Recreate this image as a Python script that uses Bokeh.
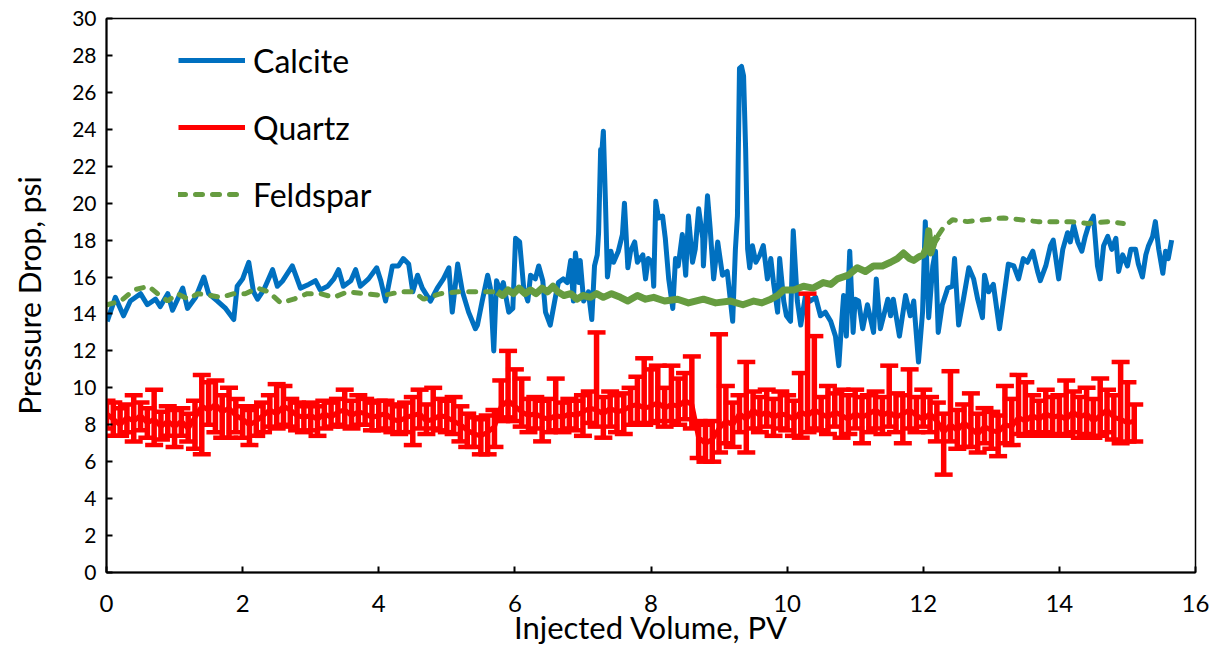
import numpy as np
from bokeh.plotting import figure
from bokeh.models import Range1d, Legend
from bokeh.embed import file_html
from bokeh.resources import INLINE

# ---------------- data ----------------
calcite_pv = [0.01, 0.13, 0.25, 0.35, 0.50, 0.60, 0.72, 0.79, 0.90, 0.97, 1.12, 1.19, 1.31, 1.43, 1.50,
              1.63, 1.75, 1.87, 1.92, 2.00, 2.09, 2.16, 2.22, 2.31, 2.44, 2.51, 2.59, 2.73, 2.85, 2.97,
              3.07, 3.14, 3.25, 3.34, 3.41, 3.48, 3.59, 3.66, 3.73, 3.85, 3.97, 4.03, 4.10, 4.20, 4.29,
              4.36, 4.44, 4.50, 4.57, 4.64, 4.76, 4.86, 4.95, 5.03, 5.08, 5.16, 5.23, 5.32, 5.42, 5.45,
              5.52, 5.60, 5.64, 5.69, 5.73, 5.79, 5.83, 5.91, 5.97, 6.01, 6.07, 6.13, 6.19, 6.23, 6.30,
              6.35, 6.41, 6.45, 6.52, 6.60, 6.64, 6.71, 6.77, 6.82, 6.86, 6.89, 6.94, 6.96, 7.01, 7.08,
              7.13, 7.17, 7.21, 7.23, 7.26, 7.27, 7.30, 7.33, 7.36, 7.41, 7.45, 7.52, 7.58, 7.61, 7.66,
              7.70, 7.76, 7.80, 7.88, 7.92, 7.96, 8.02, 8.04, 8.07, 8.11, 8.17, 8.21, 8.26, 8.32, 8.36,
              8.40, 8.46, 8.51, 8.55, 8.61, 8.65, 8.70, 8.76, 8.77, 8.83, 8.87, 8.92, 8.98, 9.05, 9.12,
              9.20, 9.24, 9.27, 9.30, 9.33, 9.36, 9.39, 9.42, 9.45, 9.49, 9.54, 9.60, 9.65, 9.71, 9.76,
              9.80, 9.86, 9.89, 9.95, 9.99, 10.05, 10.09, 10.15, 10.20, 10.27, 10.34, 10.42, 10.49, 10.56,
              10.64, 10.71, 10.76, 10.80, 10.83, 10.87, 10.92, 10.97, 11.00, 11.05, 11.11, 11.18, 11.27,
              11.31, 11.37, 11.48, 11.52, 11.56, 11.65, 11.74, 11.81, 11.86, 11.93, 11.99, 12.03, 12.08,
              12.14, 12.18, 12.22, 12.28, 12.36, 12.43, 12.46, 12.52, 12.59, 12.67, 12.74, 12.80, 12.87,
              12.90, 12.96, 13.03, 13.12, 13.18, 13.25, 13.33, 13.40, 13.47, 13.53, 13.61, 13.68, 13.72,
              13.80, 13.87, 13.91, 13.99, 14.05, 14.12, 14.16, 14.21, 14.27, 14.33, 14.38, 14.43, 14.50,
              14.56, 14.60, 14.65, 14.71, 14.77, 14.83, 14.87, 14.93, 15.00, 15.05, 15.12, 15.16, 15.22,
              15.27, 15.31, 15.37, 15.41, 15.46, 15.52, 15.56, 15.60, 15.65]
calcite_dp = [13.6, 14.9, 13.9, 14.7, 15.1, 14.5, 14.8, 14.4, 15.1, 14.2, 15.4, 14.3, 14.9, 16.0, 15.1,
              14.7, 14.3, 13.7, 15.5, 15.9, 16.8, 15.2, 14.8, 15.3, 16.4, 15.5, 15.8, 16.6, 15.4, 15.6,
              15.8, 15.3, 15.5, 15.9, 16.4, 15.5, 15.8, 16.4, 15.5, 15.9, 16.5, 15.8, 14.7, 16.6, 16.6,
              17.0, 16.7, 15.2, 16.1, 15.4, 14.7, 15.4, 15.9, 16.5, 14.1, 16.7, 15.2, 14.1, 13.2, 13.4,
              14.7, 16.1, 15.4, 12.0, 15.8, 15.2, 15.7, 14.1, 14.3, 18.1, 17.9, 15.4, 14.7, 16.1, 15.9,
              16.6, 15.8, 14.1, 13.4, 15.0, 15.7, 15.9, 15.7, 16.9, 14.7, 17.3, 15.7, 16.9, 14.7, 15.2,
              13.7, 16.6, 17.2, 18.4, 22.9, 22.4, 23.9, 20.2, 16.0, 17.4, 16.8, 17.4, 18.3, 20.0, 16.5,
              17.4, 17.9, 16.8, 17.2, 15.9, 17.0, 16.8, 15.5, 20.1, 19.2, 19.3, 18.1, 15.9, 14.3, 17.0,
              16.6, 18.3, 16.1, 19.3, 16.8, 17.5, 19.7, 18.1, 16.6, 20.4, 18.6, 15.9, 17.9, 16.1, 16.3,
              13.6, 17.5, 19.3, 27.3, 27.4, 26.9, 23.0, 17.5, 16.5, 17.7, 16.8, 17.2, 17.7, 15.9, 17.0,
              15.7, 14.1, 17.0, 14.7, 13.9, 13.6, 18.5, 14.7, 13.4, 15.0, 14.7, 14.9, 13.9, 14.1,
              13.6, 12.8, 11.2, 13.5, 15.0, 12.8, 17.4, 13.0, 14.8, 14.7, 13.2, 14.5, 13.0,
              15.9, 13.2, 14.8, 13.9, 14.8, 12.8, 15.0, 13.9, 14.7, 11.4, 14.1, 19.0, 13.8,
              16.6, 17.4, 13.0, 14.5, 15.4, 15.5, 17.0, 13.4, 14.8, 16.5, 15.9, 14.8, 13.8,
              16.1, 15.2, 15.6, 13.2, 14.8, 16.7, 16.6, 15.9, 17.0, 16.8, 17.4, 16.3, 15.8,
              16.6, 17.7, 18.0, 15.9, 17.5, 18.4, 17.9, 18.8, 17.9, 17.4, 18.2, 18.8, 19.3,
              16.6, 15.9, 17.7, 18.2, 17.5, 18.1, 16.3, 17.2, 16.6, 17.5, 17.5, 16.7, 16.0,
              17.2, 17.7, 18.2, 19.0, 17.5, 16.2, 17.4, 17.0, 18.0]

quartz_pv = [round(0.1 * i, 1) for i in range(152)]
quartz_dp = [8.6, 8.3, 8.0, 8.4, 8.2, 8.5, 8.1, 8.3, 7.9, 8.2,
             7.9, 8.2, 7.8, 8.4, 9.0, 8.8, 9.1, 8.7, 8.9, 8.5,
             8.3, 8.0, 8.2, 8.5, 8.8, 8.6, 9.0, 8.8, 8.5, 8.4,
             8.5, 8.3, 8.6, 8.4, 8.7, 8.8, 8.5, 8.7, 8.6, 8.4,
             8.5, 8.6, 8.3, 8.2, 8.4, 8.5, 8.6, 8.2, 8.3, 8.5,
             8.4, 8.2, 8.0, 7.7, 7.5, 7.4, 7.6, 7.9, 9.0, 9.3,
             9.0, 8.7, 8.5, 8.6, 8.4, 8.3, 8.5, 8.4, 8.6, 8.5,
             8.7, 8.9, 8.8, 8.6, 8.9, 8.7, 8.8, 9.0, 9.1, 8.9,
             9.0, 9.2, 8.9, 9.1, 9.0, 9.3, 9.1, 7.3, 7.0, 7.2,
             7.8, 8.2, 8.0, 8.6, 8.3, 8.8, 8.5, 8.7, 8.4, 8.6,
             8.5, 8.3, 8.7, 8.5, 8.8, 8.6, 8.4, 8.7, 8.5, 8.3,
             8.6, 8.4, 8.6, 8.8, 8.5, 8.7, 8.4, 8.6, 8.8, 8.5,
             8.3, 8.6, 8.2, 7.6, 8.0, 7.7, 8.1, 7.8, 7.5, 7.9,
             7.7, 7.6, 8.0, 7.9, 8.4, 8.2, 8.5, 8.3, 8.6, 8.4,
             8.5, 8.3, 8.7, 8.4, 8.6, 8.2, 8.5, 8.8, 8.4, 8.3,
             8.1, 8.2]
quartz_hi = [9.3, 9.2, 8.9, 9.1, 9.6, 9.2, 8.9, 9.9, 8.7, 9.0,
             8.8, 8.9, 8.6, 9.3, 10.7, 10.3, 10.4, 9.6, 10.0, 9.4,
             9.0, 8.8, 9.0, 9.2, 9.6, 10.2, 10.1, 9.4, 9.2, 9.0,
             9.2, 9.0, 9.3, 9.2, 9.4, 9.9, 9.3, 9.6, 9.4, 9.2,
             9.3, 9.3, 9.1, 9.0, 9.2, 9.5, 9.9, 9.1, 10.0, 9.4,
             9.3, 9.5, 9.0, 8.6, 8.4, 8.3, 8.5, 8.8, 10.4, 12.0,
             11.0, 10.5, 9.4, 9.5, 9.3, 9.4, 10.5, 9.2, 9.4, 9.3,
             9.6, 9.8, 13.0, 9.5, 9.8, 9.6, 9.7, 10.0, 10.6, 11.6,
             11.0, 11.2, 10.0, 11.2, 10.5, 10.8, 11.7, 8.2, 8.0, 8.2,
             12.9, 10.1, 9.2, 9.6, 11.4, 9.8, 9.5, 9.9, 9.4, 9.8,
             9.6, 9.3, 10.8, 15.1, 12.8, 9.5, 10.1, 9.7, 9.9, 9.6,
             9.9, 9.5, 9.6, 9.8, 9.5, 11.2, 9.7, 9.6, 11.0, 9.5,
             9.9, 9.5, 9.2, 8.6, 10.9, 8.8, 9.1, 9.7, 8.6, 8.9,
             8.7, 8.5, 10.1, 9.4, 10.7, 10.3, 9.6, 9.3, 9.9, 9.5,
             9.6, 10.4, 9.8, 9.5, 10.0, 9.4, 10.5, 9.9, 9.6, 11.4,
             10.3, 9.1]
quartz_lo = [7.8, 7.4, 7.4, 7.6, 7.1, 7.7, 7.3, 6.9, 7.2, 7.4,
             6.8, 7.4, 7.1, 6.7, 6.4, 8.0, 7.6, 7.3, 7.3, 7.6,
             7.3, 6.9, 7.4, 7.6, 7.9, 7.8, 8.0, 7.9, 7.7, 7.6,
             7.7, 7.4, 7.8, 7.9, 8.0, 7.9, 7.8, 8.0, 8.0, 7.7,
             7.7, 7.8, 7.6, 7.5, 7.6, 6.9, 7.8, 7.5, 7.8, 7.7,
             7.6, 7.5, 7.1, 6.8, 6.8, 6.4, 6.4, 6.8, 8.2, 8.4,
             8.2, 7.9, 7.6, 7.8, 7.1, 7.6, 7.7, 7.6, 7.8, 7.7,
             7.4, 8.1, 7.9, 7.3, 7.9, 7.6, 7.5, 8.0, 8.1, 8.0,
             8.1, 8.2, 7.9, 8.2, 8.0, 8.3, 7.8, 6.2, 6.0, 6.0,
             6.5, 7.0, 6.8, 7.6, 6.5, 7.8, 7.6, 7.9, 7.4, 7.8,
             7.7, 7.4, 7.3, 7.6, 7.8, 7.7, 7.5, 7.9, 7.3, 7.5,
             7.8, 7.0, 7.6, 7.8, 7.5, 7.9, 7.6, 7.0, 7.8, 7.6,
             7.9, 7.6, 7.1, 5.3, 7.1, 6.7, 6.8, 6.8, 6.5, 7.0,
             6.7, 6.3, 7.0, 6.9, 7.5, 7.4, 7.6, 7.4, 7.6, 7.4,
             7.5, 7.4, 7.6, 7.3, 7.5, 7.3, 7.4, 7.6, 7.2, 7.0,
             7.1, 7.1]

feldspar_pv = [0.01, 0.21, 0.40, 0.62, 0.75, 0.90, 1.04, 1.20, 1.34, 1.53, 1.68, 1.87, 2.04, 2.22,
               2.38, 2.56, 2.75, 2.95, 3.14, 3.34, 3.54, 3.78, 4.07, 4.32, 4.51, 4.66, 4.91, 5.17,
               5.45, 5.57, 5.74, 5.82, 5.90, 5.98, 6.06, 6.15, 6.23, 6.31, 6.40, 6.48, 6.56, 6.63,
               6.72, 6.82, 6.91, 7.00, 7.11, 7.20, 7.30, 7.42, 7.55, 7.66, 7.80, 7.92, 8.04, 8.20,
               8.39, 8.55, 8.77, 8.95, 9.17, 9.35, 9.51, 9.63, 9.76, 9.86, 9.95, 10.10, 10.24, 10.38,
               10.53, 10.64, 10.74, 10.90, 11.03, 11.15, 11.27, 11.40, 11.52, 11.62, 11.71, 11.80,
               11.86, 11.94, 12.00, 12.05, 12.08, 12.11, 12.16, 12.21, 12.30, 12.43, 12.65, 12.89,
               13.18, 13.43, 13.68, 13.91, 14.16, 14.41, 14.71, 14.94]
feldspar_dp = [14.5, 14.7, 15.3, 15.5, 15.1, 14.7, 15.1, 14.8, 15.1, 15.0, 14.9, 15.1, 15.1, 15.4,
               15.2, 14.6, 14.8, 15.1, 15.1, 14.9, 15.2, 15.1, 15.0, 15.2, 15.2, 14.8, 15.1, 15.2,
               15.2, 15.2, 15.2, 15.0, 15.3, 15.1, 15.4, 15.1, 15.3, 15.1, 15.4, 15.2, 15.5, 15.2,
               15.0, 15.1, 14.8, 15.0, 14.9, 15.1, 14.9, 15.1, 14.9, 14.7, 15.0, 14.8, 14.9, 14.7,
               14.8, 14.6, 14.8, 14.6, 14.7, 14.5, 14.7, 14.6, 14.8, 15.0, 15.3, 15.3, 15.5, 15.4,
               15.7, 15.6, 15.9, 16.1, 16.5, 16.3, 16.6, 16.6, 16.8, 17.0, 17.3, 17.0,
               16.9, 17.1, 17.2, 17.6, 18.5, 17.3, 17.9, 18.2, 18.7, 19.1, 19.0, 19.1,
               19.2, 19.1, 19.0, 19.0, 19.0, 18.9, 19.0, 18.9]

x_ticks = [0, 2, 4, 6, 8, 10, 12, 14, 16]
y_ticks = [0, 2, 4, 6, 8, 10, 12, 14, 16, 18, 20, 22, 24, 26, 28, 30]

BLUE = "#0070C0"
RED = "#FF0000"
GREEN = "#669C40"
FONT = "Lato"

p = figure(width=1221, height=648, output_backend="svg", toolbar_location=None,
           x_range=Range1d(0, 16), y_range=Range1d(0, 30),
           min_border_left=106, min_border_right=26, min_border_top=18, min_border_bottom=74)
p.background_fill_color = "white"
p.border_fill_color = "white"
p.outline_line_color = "black"
p.outline_line_width = 1.5
p.xgrid.visible = False
p.ygrid.visible = False

for ax in (p.xaxis[0], p.yaxis[0]):
    ax.axis_line_color = "black"
    ax.axis_line_width = 2
    ax.major_tick_line_color = "black"
    ax.major_tick_line_width = 2
    ax.major_tick_in = 6
    ax.major_tick_out = 0
    ax.minor_tick_line_color = None
    ax.major_label_text_font = FONT
    ax.major_label_text_color = "black"
    ax.axis_label_text_font = FONT
    ax.axis_label_text_font_style = "normal"
    ax.axis_label_text_color = "black"

p.xaxis.ticker = x_ticks
p.yaxis.ticker = y_ticks
p.xaxis.major_label_text_font_size = "24px"
p.yaxis.major_label_text_font_size = "21px"
p.xaxis.major_label_standoff = 22
p.yaxis.major_label_standoff = 10
p.xaxis.axis_label = "Injected Volume, PV"
p.yaxis.axis_label = "Pressure Drop, psi"
p.xaxis.axis_label_text_font_size = "31px"
p.yaxis.axis_label_text_font_size = "30px"
p.xaxis.axis_label_standoff = -7
p.yaxis.axis_label_standoff = 22

# Calcite
r_c = p.line(calcite_pv, calcite_dp, line_color=BLUE, line_width=5, line_join="round")

# Quartz with error bars
r_q = p.line(quartz_pv, quartz_dp, line_color=RED, line_width=5, line_join="round")
p.segment(x0=quartz_pv, y0=quartz_lo, x1=quartz_pv, y1=quartz_hi, line_color=RED, line_width=5.5)
p.scatter(quartz_pv, quartz_hi, marker="dash", size=18, line_color=RED, line_width=4.5)
p.scatter(quartz_pv, quartz_lo, marker="dash", size=18, line_color=RED, line_width=4.5)

# Feldspar: dashed line; dense noisy middle part appears solid
fx = np.array(feldspar_pv)
fy = np.array(feldspar_dp)
r_f = p.line(fx, fy, line_color=GREEN, line_width=5, line_dash="7 10", line_cap="round")
mid = (fx >= 5.7) & (fx <= 12.25)
p.line(fx[mid], fy[mid], line_color=GREEN, line_width=7, line_join="round")

legend = Legend(items=[("Calcite", [r_c]), ("Quartz", [r_q]), ("Feldspar", [r_f])],
                location=(72, 358), orientation="vertical",
                glyph_width=67, glyph_height=40, label_height=40, label_standoff=8,
                spacing=27, padding=0, margin=0,
                label_text_font=FONT, label_text_font_size="32px", label_text_color="black",
                border_line_alpha=0, background_fill_alpha=0)
p.add_layout(legend)

open("out.html", "w").write(file_html(p, INLINE))
